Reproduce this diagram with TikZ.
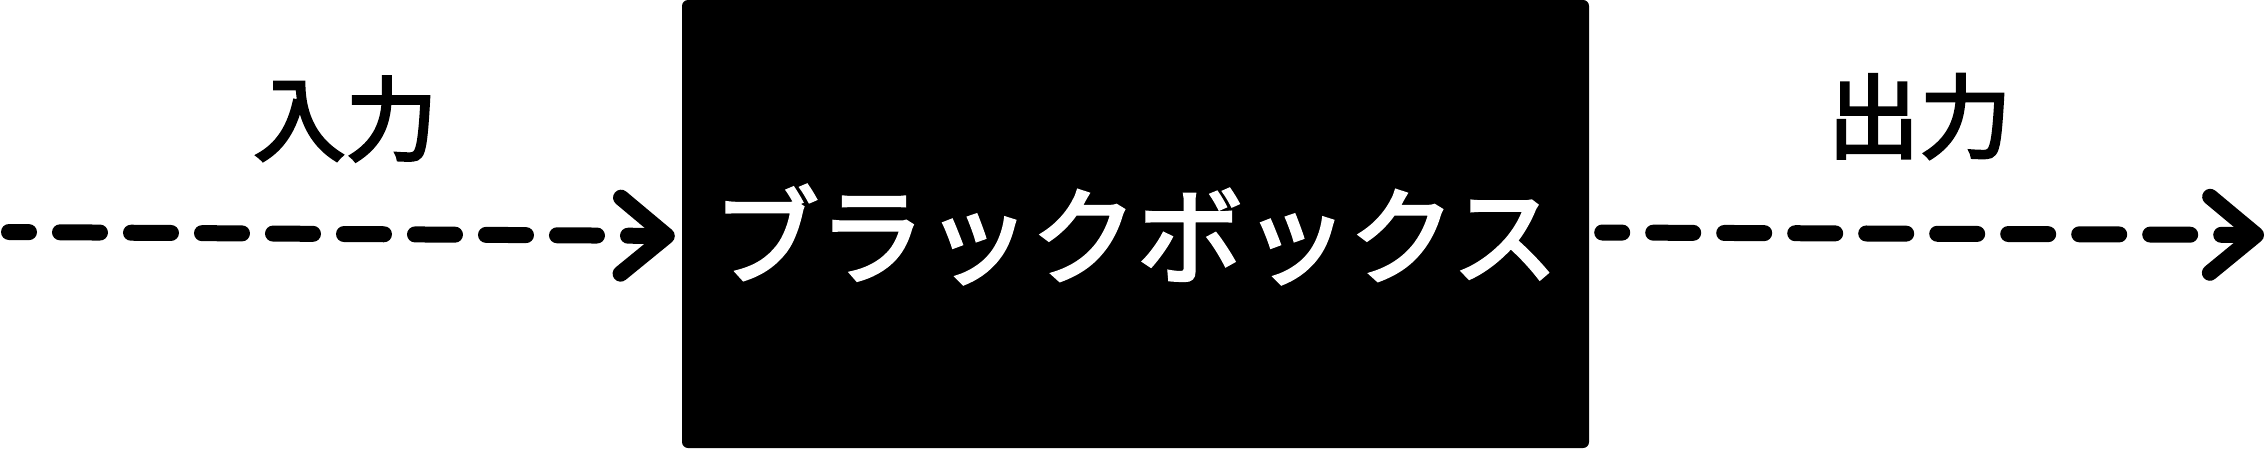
\documentclass[tikz,border=0pt]{standalone}
\usepackage{fontspec}
\setmainfont{Noto Sans CJK JP}
\newfontfamily\medfont{Noto Sans CJK JP}[FakeBold=3]
\usetikzlibrary{arrows.meta}

\begin{document}
\begin{tikzpicture}[x=1pt,y=1pt,
  main/.style={fill=black, text=white, rounded corners=6pt, minimum width=907pt, minimum height=448pt, inner sep=0pt, text height=104pt, text depth=0pt, font=\medfont\fontsize{106}{120}\selectfont},
  lbl/.style={inner sep=0pt, font=\medfont\fontsize{92}{110}\selectfont},
  flow/.style={line width=16pt, line cap=round, dash pattern=on 40pt off 31pt, dash phase=20pt, -{Straight Barb[length=46pt, width=76pt, round]}}]
  \useasboundingbox (0,0) rectangle (2266,448);
  \node[main] (0) at (1135.5,224) {ブラックボックス};
  \node[lbl] (1) at (345.5,329) {入力};
  \node[lbl] (2) at (1919.5,331.5) {出力};

  \coordinate (3) at (9,216);
  \coordinate (4) at ([xshift=-7pt,yshift=-12pt]0.west);
  \coordinate (5) at ([xshift=13pt,yshift=-8.5pt]0.east);
  \coordinate (6) at (2264,213);

  \draw[flow] (3) -- (4);
  \draw[flow] (5) -- (6);
\end{tikzpicture}
\end{document}
